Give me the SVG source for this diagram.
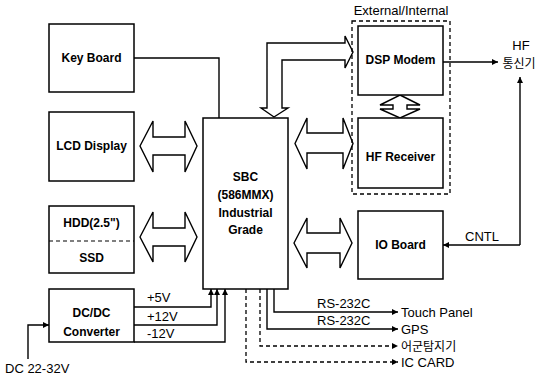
<svg xmlns="http://www.w3.org/2000/svg" width="539" height="376" viewBox="0 0 539 376">
<defs>
<style>
.box{fill:#fff;stroke:#000;stroke-width:1.5}
.ln{fill:none;stroke:#000;stroke-width:1.4}
.dl{fill:none;stroke:#000;stroke-width:1.3;stroke-dasharray:4,3}
.fat{fill:#fff;stroke:#000;stroke-width:1.4;stroke-linejoin:miter}
.b{font-family:"Liberation Sans",Arial,sans-serif;font-weight:bold;font-size:12px;text-anchor:middle;fill:#000}
.t{font-family:"Liberation Sans",Arial,"Noto Sans CJK KR",sans-serif;font-size:13px;fill:#000}
.k{font-family:"Noto Sans CJK KR",sans-serif;font-size:12px;fill:#000}
</style>
<marker id="ah" viewBox="0 0 10 10" refX="10" refY="5" markerWidth="6" markerHeight="6" markerUnits="userSpaceOnUse" orient="auto">
<path d="M0,0 L10,5 L0,10 Z" fill="#000"/>
</marker>
</defs>

<g id="connectors">
<polyline class="ln" points="134,58 219,58 219,118"/>
<path class="fat" d="M140,146 L153,121 L153,137 L185,137 L185,121 L197,146 L185,172 L185,155 L153,155 L153,172 Z"/>
<path class="fat" d="M140,237 L153,212 L153,228 L185,228 L185,212 L197,237 L185,262 L185,246 L153,246 L153,262 Z"/>
<path class="fat" d="M295,143.5 L307,118 L307,133 L343,133 L343,118 L353,143.5 L343,169 L343,153 L307,153 L307,169 Z"/>
<path class="fat" d="M294,243 L307,218 L307,233 L340,233 L340,218 L352,243 L340,268 L340,253 L307,253 L307,268 Z"/>
<path class="fat" d="M274,117 L261,108 L267,108 L267,43 L345,43 L345,36 L353,52 L345,68 L345,60 L282,60 L282,108 L288,108 Z"/>
<path class="fat" d="M400,95 L420,105 L407,105 L407,109 L420,109 L400,118 L380,109 L393,109 L393,105 L380,105 Z"/>
<line class="ln" x1="443" y1="62" x2="498" y2="62" marker-end="url(#ah)"/>
<polyline class="ln" points="520,245 520,77" marker-end="url(#ah)"/>
<polyline class="ln" points="520,245 443,245" marker-end="url(#ah)"/>
<polyline class="ln" points="134,307 211,307 211,289" marker-end="url(#ah)"/>
<polyline class="ln" points="134,325 217,325 217,289" marker-end="url(#ah)"/>
<polyline class="ln" points="134,342 225,342 225,289" marker-end="url(#ah)"/>
<polyline class="ln" points="28,359 28,325 49,325" marker-end="url(#ah)"/>
<polyline class="ln" points="274,289 274,312 398,312" marker-end="url(#ah)"/>
<polyline class="ln" points="267,289 267,329 398,329" marker-end="url(#ah)"/>
<polyline class="dl" points="260,289 260,346 398,346" marker-end="url(#ah)"/>
<polyline class="dl" points="246,289 246,362 398,362" marker-end="url(#ah)"/>
</g>

<g id="group-external">
<rect x="352" y="21" width="98" height="173" fill="none" stroke="#000" stroke-width="1.3" stroke-dasharray="4,3"/>
<text class="t" x="401" y="15" text-anchor="middle" font-size="12">External/Internal</text>
</g>

<g id="keyboard"><rect class="box" x="49" y="24" width="85" height="68"/><text class="b" x="91.5" y="62">Key Board</text></g>
<g id="lcd"><rect class="box" x="49" y="112" width="85" height="69"/><text class="b" x="91.5" y="150">LCD Display</text></g>
<g id="hdd"><rect class="box" x="49" y="206" width="85" height="67"/><line x1="49" y1="241" x2="134" y2="241" stroke="#000" stroke-width="1.2" stroke-dasharray="4,3"/><text class="b" x="91.5" y="227">HDD(2.5")</text><text class="b" x="91.5" y="262">SSD</text></g>
<g id="dcdc"><rect class="box" x="49" y="289" width="85" height="53"/><text class="b" x="91.5" y="317">DC/DC</text><text class="b" x="91.5" y="336">Converter</text></g>
<g id="sbc"><rect class="box" x="203" y="118" width="85" height="171"/><text class="b" x="245.5" y="181">SBC</text><text class="b" x="245.5" y="199">(586MMX)</text><text class="b" x="245.5" y="217">Industrial</text><text class="b" x="245.5" y="234">Grade</text></g>
<g id="dsp"><rect class="box" x="358" y="26" width="85" height="69"/><text class="b" x="400.5" y="64">DSP Modem</text></g>
<g id="hfrx"><rect class="box" x="358" y="118" width="85" height="70"/><text class="b" x="400.5" y="161">HF Receiver</text></g>
<g id="io"><rect class="box" x="358" y="211" width="85" height="68"/><text class="b" x="400.5" y="249">IO Board</text></g>

<g id="labels">
<text class="t" x="521" y="50" text-anchor="middle">HF</text>
<text class="k" x="519" y="68" text-anchor="middle">통신기</text>
<text class="t" x="465" y="241">CNTL</text>
<text class="t" x="147" y="302" font-size="12.5">+5V</text>
<text class="t" x="147" y="321" font-size="12.5">+12V</text>
<text class="t" x="147" y="338" font-size="12.5">-12V</text>
<text class="t" x="5" y="373" font-size="14">DC 22-32V</text>
<text class="t" x="317" y="308">RS-232C</text>
<text class="t" x="317" y="325">RS-232C</text>
<text class="t" x="401" y="317">Touch Panel</text>
<text class="t" x="401" y="333.5">GPS</text>
<text class="k" x="401" y="350.5">어군탐지기</text>
<text class="t" x="401" y="367">IC CARD</text>
</g>
</svg>
